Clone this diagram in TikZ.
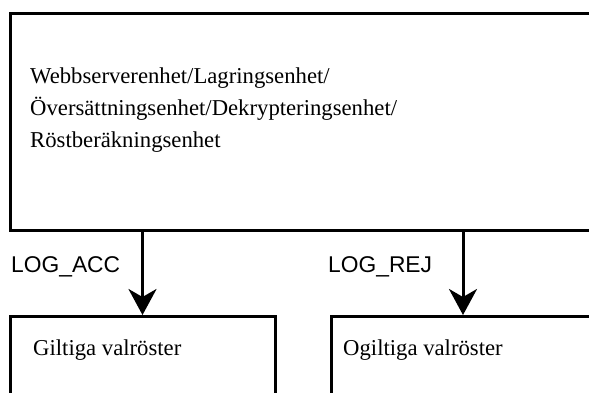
\documentclass[tikz,border=0pt]{standalone}
\usepackage{fontspec}
\setmainfont{Liberation Serif}
\newfontfamily\labelfont{Liberation Sans}
\usetikzlibrary{arrows.meta}

\tikzset{
  unitbox/.style={draw=black, line width=3pt, rectangle, inner sep=0pt, outer sep=0pt, anchor=north west},
  boxtext/.style={inner sep=0pt, anchor=base west, font=\fontsize{22.7}{32}\selectfont},
  flowlabel/.style={inner sep=0pt, anchor=base west, font=\labelfont\fontsize{22.8}{27}\selectfont},
  flowarrow/.style={line width=3pt, -{Stealth[length=26pt, width=28pt, inset=8pt]}, shorten >=1.5pt, shorten <=1.5pt}
}

\begin{document}
\begin{tikzpicture}[x=1pt, y=-1pt]
  \useasboundingbox (0,0) rectangle (589,392);
  \clip (0,0) rectangle (589,392);

  % processing units on top, result stores below (they run on past the page edge)
  \node[unitbox, minimum width=620pt, minimum height=217pt] (units) at (10,13.5) {};
  \node[unitbox, minimum width=265pt, minimum height=100pt] (acc) at (10,316.5) {};
  \node[unitbox, minimum width=263pt, minimum height=100pt] (rej) at (331.5,316.5) {};

  % box captions
  \node[boxtext] (line1) at (30,83) {Webbserverenhet/Lagringsenhet/};
  \node[boxtext] (line2) at (30,115) {Översättningsenhet/Dekrypteringsenhet/};
  \node[boxtext] (line3) at (30,147) {Röstberäkningsenhet};
  \node[boxtext] (acctext) at (33,355) {Giltiga valröster};
  \node[boxtext] (rejtext) at (343,355) {Ogiltiga valröster};

  % log flows
  \draw[flowarrow] (acc.north |- units.south) -- (acc.north);
  \draw[flowarrow] (rej.north |- units.south) -- (rej.north);
  \node[flowlabel] (acclabel) at (11,272) {LOG\_ACC};
  \node[flowlabel] (rejlabel) at (328,272) {LOG\_REJ};
\end{tikzpicture}
\end{document}
